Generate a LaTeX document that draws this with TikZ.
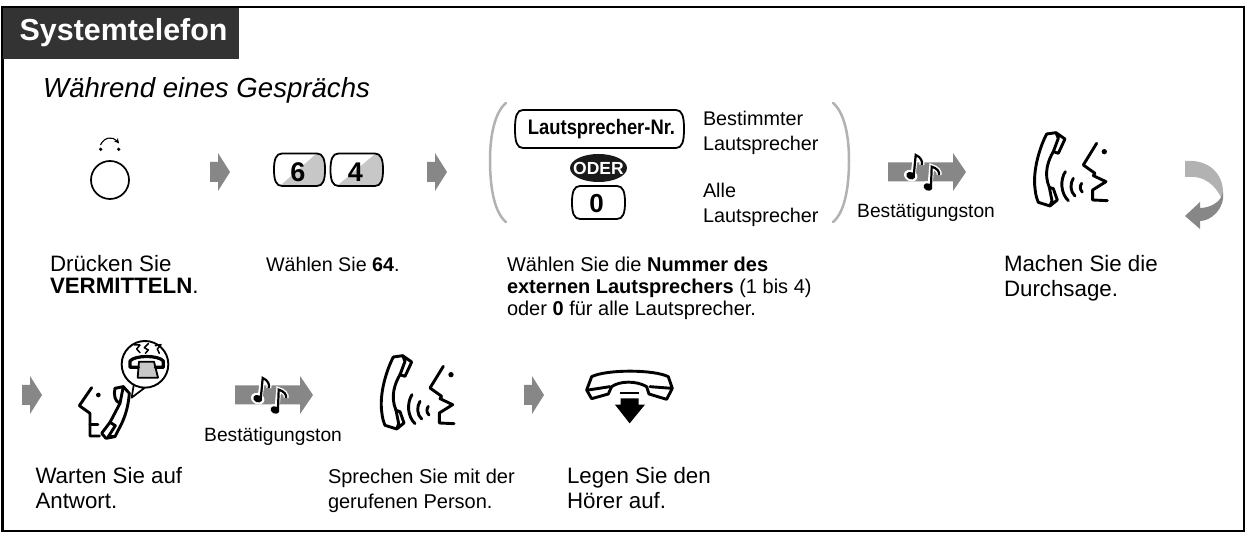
\documentclass[tikz,border=0pt]{standalone}
\usepackage{fontspec}
\usepackage{graphicx}
\setmainfont{Liberation Sans}
\usetikzlibrary{shapes.geometric,arrows.meta}
\definecolor{titlebg}{gray}{0.2}
\definecolor{arrowgray}{gray}{0.53}
\definecolor{parengray}{gray}{0.7}
\definecolor{keygray}{gray}{0.78}
\newcommand{\fl}{\rule{0pt}{24pt}}
\tikzset{
  txt/.style={inner sep=0pt,outer sep=0pt,anchor=north west,align=left,font=\fontsize{22.3}{25}\selectfont},
  small/.style={inner sep=0pt,outer sep=0pt,anchor=north west,align=left,font=\fontsize{20}{22}\selectfont},
  side/.style={inner sep=0pt,outer sep=0pt,anchor=north west,align=left,font=\fontsize{19.8}{25}\selectfont},
  tone/.style={inner sep=0pt,anchor=base west,font=\fontsize{19.2}{20}\selectfont},
  keyline/.style={draw=black,line width=1.8pt,line join=round},
  keytxt/.style={inner sep=0pt,font=\fontsize{27}{27}\selectfont\bfseries},
  icon/.style={line width=2.9pt,line cap=round,line join=round},
}
% bowed key outline: x0,y0,x1,y1
\newcommand{\keyshape}[4]{\draw[keyline] (#1+8,#2) -- (#3-8,#2) .. controls (#3-2,#2) and (#3,#2+6) .. (#3,#2/2+#4/2) .. controls (#3,#4-6) and (#3-2,#4) .. (#3-8,#4) -- (#1+8,#4) .. controls (#1+2,#4) and (#1,#4-6) .. (#1,#2/2+#4/2) .. controls (#1,#2+6) and (#1+2,#2) .. (#1+8,#2) -- cycle;}
\newcommand{\blockarrow}[2]{\fill[arrowgray] (#1,#2-10) -- (#1+8,#2-10) -- (#1+8,#2-19) -- (#1+20,#2) -- (#1+8,#2+19) -- (#1+8,#2+10) -- (#1,#2+10) -- cycle;}
\newcommand{\speaker}[2]{
\begin{scope}[shift={(#1,#2)}]
 \fill[arrowgray] (0,-9.5) -- (65,-9.5) -- (65,-19) -- (78,0) -- (65,19) -- (65,9.5) -- (0,9.5) -- cycle;
 \draw[white,line width=5pt] (25,3) -- (27.7,-17) .. controls (33,-15) and (35,-10) .. (33.7,-7);
 \fill[white,rotate around={-25:(22.7,3.7)}] (22.7,3.7) ellipse (7 and 5.5);
 \draw[white,line width=5pt] (42,14) -- (43.7,-5.3) .. controls (49,-4) and (52,0) .. (51,3);
 \fill[white,rotate around={-25:(40,15)}] (40,15) ellipse (7 and 5.5);
 \draw[black,line width=2.2pt] (25.8,3) -- (27.7,-17) .. controls (33,-15) and (35,-10) .. (33.7,-7);
 \fill[black,rotate around={-25:(22.7,3.7)}] (22.7,3.7) ellipse (4.6 and 3.6);
 \draw[black,line width=2.2pt] (43,14) -- (43.7,-5.3) .. controls (49,-4) and (52,0) .. (51,3);
 \fill[black,rotate around={-25:(40,15)}] (40,15) ellipse (4.6 and 3.6);
\end{scope}}
\newcommand{\talkicon}[2]{
\begin{scope}[shift={(#1,#2)},scale=0.3333,icon]
 \draw (590,72) -- (618,68) -- (645,87) -- (625,130) -- (610,125) -- (625,85) -- (618,68);
 \draw (590,72) .. controls (570,110) and (548,180) .. (555,235) .. controls (557,255) and (560,265) .. (565,277) -- (600,288) -- (622,270) -- (610,236) -- (598,232) -- (606,272) -- (600,288);
 \draw (610,125) .. controls (595,150) and (580,190) .. (598,232);
 \draw (646,185) .. controls (630,210) and (632,250) .. (655,272);
 \draw (670,205) .. controls (660,220) and (660,245) .. (675,258);
 \draw (695,220) .. controls (689,228) and (689,238) .. (697,246);
 \draw (740,100) -- (700,165) -- (735,190) -- (730,197) -- (768,215) -- (728,240) -- (728,270) -- (772,272);
 \fill (763,125) circle (8);
\end{scope}}
\begin{document}
\begin{tikzpicture}[x=1pt,y=-1pt]
\useasboundingbox (0,0) rectangle (1248,534);
\fill[white] (0,0) rectangle (1248,534);
\draw[line width=2.5pt] (2.5,7) rectangle (1244,531);
\fill[titlebg] (3,8) rectangle (239,59);
\node[inner sep=0pt,anchor=base west,text=white,font=\fontsize{30.4}{30}\selectfont\bfseries] (title) at (19.5,41) {Systemtelefon};
\node[inner sep=0pt,anchor=base west,font=\fontsize{27.6}{27.6}\selectfont\itshape] (during) at (43,98) {Während eines Gesprächs};
% transfer button
\draw[line width=1.7pt] (110,180) circle (19);
\draw[line width=1.1pt,-{Stealth[length=5pt,width=5pt]}] (100.5,145) .. controls (104,137) and (113,136) .. (119,143.5);
\fill (100.7,149.3) circle (1.8) (118.7,149.3) circle (1.8);
\blockarrow{210}{172}
% keys 6 4
\fill[keygray] (316,154) -- (322,155) -- (325,170) -- (322,185) -- (281,185) -- cycle;
\keyshape{274}{153.5}{325}{186}
\fill[keygray] (375,154) -- (380,155) -- (383,170) -- (380,185) -- (338,185) -- cycle;
\keyshape{330.5}{153.5}{383}{186}
\node[keytxt] (k6) at (298,172.5) {6};
\node[keytxt] (k4) at (355.5,172.5) {4};
\blockarrow{427}{172}
% parens
\draw[parengray,line width=2.5pt,line cap=round] (506,103) .. controls (495,112) and (490,135) .. (490,160) .. controls (490,190) and (495,213) .. (506,222);
\draw[parengray,line width=2.5pt,line cap=round] (833,103) .. controls (844,112) and (849,135) .. (849,160) .. controls (849,190) and (844,213) .. (833,222);
\keyshape{515}{110}{684}{148}
\node[inner sep=0pt,font=\fontsize{21}{21}\selectfont\bfseries] (lsnr) at (601.5,129) {\scalebox{0.875}[1]{Lautsprecher-Nr.}};
\fill[black!90] (598.5,168) ellipse (28.5 and 14);
\node[inner sep=0pt,text=white,font=\fontsize{17.5}{17.5}\selectfont\bfseries] (oder) at (598.5,168) {ODER};
\keyshape{572}{186}{625}{219}
\node[keytxt,font=\fontsize{26}{26}\selectfont\bfseries] (k0) at (596.5,203.5) {0};
\node[side] (bl) at (703,102) {\fl Bestimmter\\Lautsprecher};
\node[side] (al) at (703,174) {\fl Alle\\Lautsprecher};
\speaker{888}{172}
\node[tone] (bt1) at (857,218) {Bestätigungston};
\talkicon{850}{110}
% return arrow
\fill[parengray] (1185,161) .. controls (1210,159) and (1223,175) .. (1223,192) -- (1222,199) .. controls (1215,185) and (1205,175) .. (1185,177) -- cycle;
\fill[arrowgray] (1223,192) .. controls (1225,210) and (1210,221) .. (1200,221) -- (1200,229) -- (1185,216) -- (1200,202) -- (1200,208) .. controls (1210,208) and (1220,202) .. (1222,195) -- cycle;
% row 1 texts
\node[txt,font=\fontsize{22.3}{21.5}\selectfont] (t1) at (50,248) {\fl Drücken Sie\\\textbf{VERMITTELN}.};
\node[txt,font=\fontsize{19.7}{22}\selectfont] (t2) at (266,248) {\fl Wählen Sie \textbf{64}.};
\node[small] (t3) at (507,248) {\fl Wählen Sie die \textbf{Nummer des}\\\textbf{externen Lautsprechers} (1 bis 4)\\oder \textbf{0} für alle Lautsprecher.};
\node[txt] (t4) at (1004,248) {\fl Machen Sie die\\Durchsage.};
% row 2
\blockarrow{22}{395}
% waiting icon, bubble with telephone
\begin{scope}[shift={(70,335)},scale=0.3333,icon]
 \draw[line width=1.7pt,fill=white] (185,188) -- (192,145) -- (222,160) -- cycle;
 \draw[line width=1.9pt,fill=white] (225,88) circle (70);
 \fill[keygray,draw=black,line width=1.8pt] (207,80) -- (252,80) -- (264,128) -- (203,128) -- cycle;
 \draw[line width=3.2pt] (205,97) -- (180,97) -- (180,78) .. controls (195,60) and (265,60) .. (280,78) -- (280,97) -- (256,97);
 \draw[line width=1.5pt] (193,30) -- (210,30) -- (200,42) -- (210,53);
 \draw[line width=1.5pt] (235,26) -- (223,38) -- (235,45) -- (226,55);
 \draw[line width=1.5pt] (256,32) -- (273,29) -- (262,42) -- (268,55);
 \draw (65,158) -- (28,212) -- (60,235) -- (60,303) -- (88,303);
 \draw (60,268) -- (84,268);
 \fill (85,180) circle (7);
 \draw (135,160) -- (160,155) -- (178,175) .. controls (175,215) and (165,250) .. (145,285) -- (135,305) -- (108,310) -- (95,295) -- (120,262) -- (136,272) -- (115,305) -- (135,305);
 \draw (135,160) .. controls (130,180) and (135,200) .. (150,205) -- (120,262);
 \draw (160,155) -- (150,205);
\end{scope}
\speaker{235}{395}
\node[tone] (bt2) at (204,442) {Bestätigungston};
\talkicon{196.7}{333}
\blockarrow{524}{395}
% hang up
\begin{scope}[shift={(350,320)},scale=0.3333,icon]
 \draw (725,170) .. controls (770,148) and (910,148) .. (955,170) -- (967,205) -- (950,238) -- (897,222) -- (890,200) .. controls (860,182) and (810,182) .. (785,200) -- (775,222) -- (725,236) -- (710,210) -- cycle;
 \draw (715,210) -- (780,200);
 \draw (900,200) -- (965,205);
 \fill (810,215) rectangle (868,223);
 \fill (812,235) -- (866,235) -- (866,254) -- (885,254) -- (839,310) -- (795,254) -- (812,254) -- cycle;
\end{scope}
\node[txt] (t5) at (35.5,459) {\fl Warten Sie auf\\Antwort.};
\node[small,font=\fontsize{20}{25}\selectfont] (t6) at (328,459) {\fl Sprechen Sie mit der\\gerufenen Person.};
\node[txt] (t7) at (567,459) {\fl Legen Sie den\\Hörer auf.};
\end{tikzpicture}
\end{document}
